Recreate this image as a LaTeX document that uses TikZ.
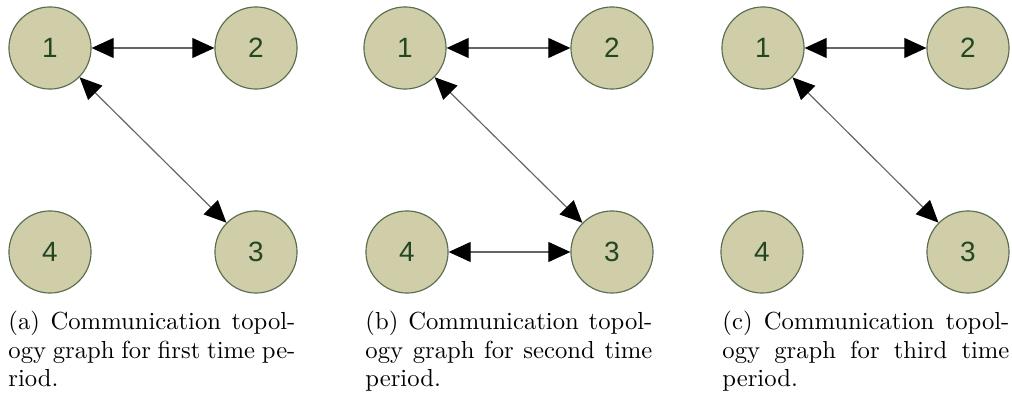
\documentclass[tikz,border=0pt]{standalone}
\usepackage{fontspec}
\newfontfamily\numfont{Liberation Sans}
\usetikzlibrary{arrows.meta}
\definecolor{nodefill}{RGB}{208,206,168}
\definecolor{nodeline}{RGB}{90,110,80}
\definecolor{numcolor}{RGB}{35,70,35}
\definecolor{linkcolor}{RGB}{100,100,100}
\tikzset{
  vertex/.style={circle, draw=nodeline, line width=0.5pt, fill=nodefill, minimum size=35.3pt, inner sep=0pt, font=\numfont\fontsize{12}{14}\selectfont, text=numcolor},
  link/.style={draw=linkcolor, line width=0.5pt, {Triangle[length=9.5pt,width=8.6pt,fill=black,color=black]}-{Triangle[length=9.5pt,width=8.6pt,fill=black,color=black]}},
  capline/.style={anchor=base west, inner sep=0pt, font=\fontsize{10.6}{12.7}\selectfont},
}
\newcommand{\fullline}[1]{\makebox[123.4pt][s]{#1}}
\begin{document}
\begin{tikzpicture}[x=0.43pt, y=-0.43pt]
\useasboundingbox (0,0) rectangle (1012,394);
% panel a
\node[vertex] (a1) at (50,48) {1};
\node[vertex] (a2) at (256,48) {2};
\node[vertex] (a4) at (50,252) {4};
\node[vertex] (a3) at (256,252) {3};
\draw[link] (a1) -- (a2);
\draw[link] (a1) -- (a3);
\node[capline] (ca1) at (8,330) {\fullline{(a) Communication topol-}};
\node[capline] (ca2) at (8,358.5) {\fullline{ogy graph for first time pe-}};
\node[capline] (ca3) at (8,387) {riod.};
% panel b
\node[vertex] (b1) at (405,48) {1};
\node[vertex] (b2) at (612,48) {2};
\node[vertex] (b4) at (407,252) {4};
\node[vertex] (b3) at (612,252) {3};
\draw[link] (b1) -- (b2);
\draw[link] (b1) -- (b3);
\draw[link] (b4) -- (b3);
\node[capline] (cb1) at (365,330) {\fullline{(b) Communication topol-}};
\node[capline] (cb2) at (365,358.5) {\fullline{ogy graph for second time}};
\node[capline] (cb3) at (365,387) {period.};
% panel c
\node[vertex] (c1) at (763,48) {1};
\node[vertex] (c2) at (968,48) {2};
\node[vertex] (c4) at (762,252) {4};
\node[vertex] (c3) at (968,252) {3};
\draw[link] (c1) -- (c2);
\draw[link] (c1) -- (c3);
\node[capline] (cc1) at (722,330) {\fullline{(c) Communication topol-}};
\node[capline] (cc2) at (722,358.5) {\fullline{ogy graph for third time}};
\node[capline] (cc3) at (722,387) {period.};
\end{tikzpicture}
\end{document}
